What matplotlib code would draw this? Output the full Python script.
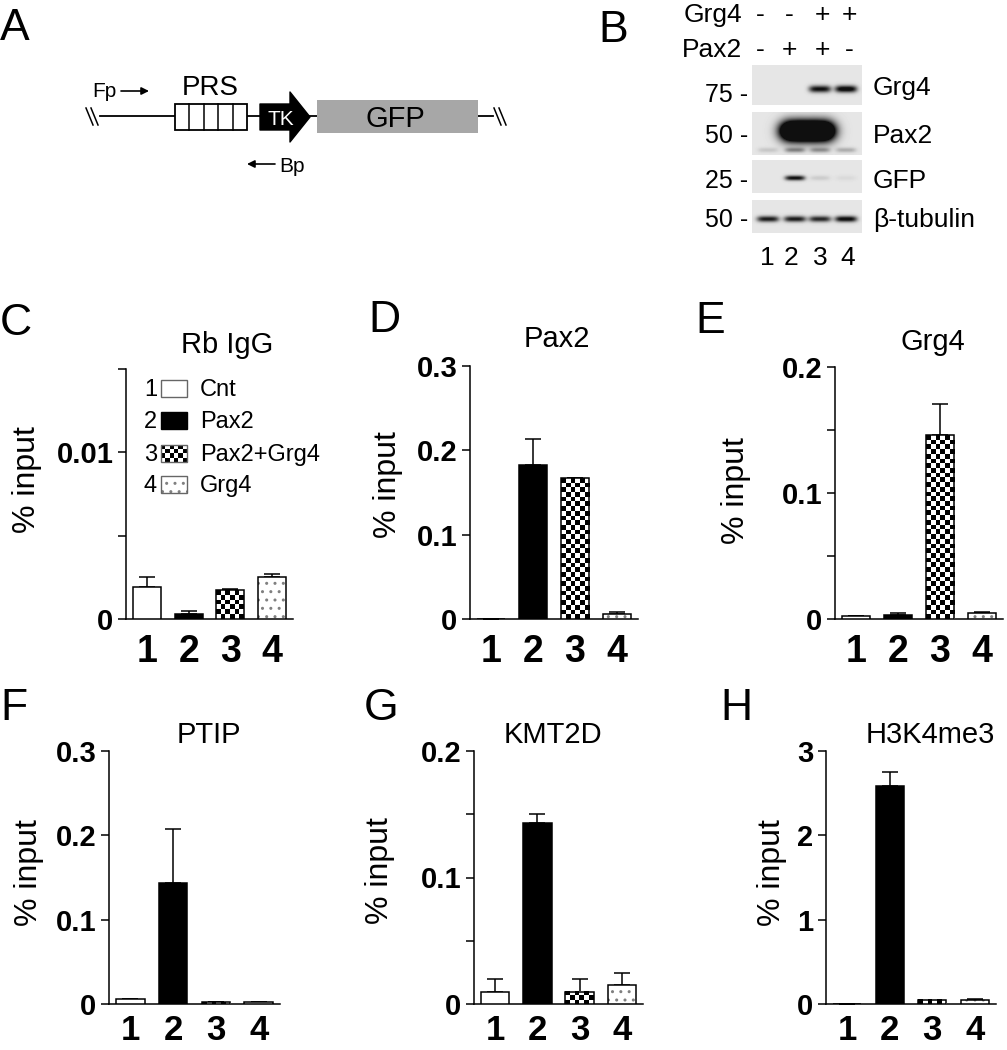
import numpy as np
import matplotlib.pyplot as plt
from matplotlib.patches import Rectangle, Polygon

W, H = 1007, 1050
plt.rcParams['font.family'] = ['Liberation Sans', 'DejaVu Sans']
plt.rcParams['hatch.linewidth'] = 1.0

lanes = [1, 2, 3, 4]
lane_labels = ['1', '2', '3', '4']
groups = ['Cnt', 'Pax2', 'Pax2+Grg4', 'Grg4']

# ChIP-qPCR, % input (mean and upper error)
rbigg_mean = [0.0019, 0.00032, 0.00172, 0.00252]
rbigg_err = [0.0006, 0.00014, 0.00008, 0.0002]
pax2_mean = [0.0, 0.183, 0.1667, 0.006]
pax2_err = [0.0, 0.031, 0.0008, 0.002]
grg4_mean = [0.002, 0.003, 0.146, 0.005]
grg4_err = [0.0003, 0.0015, 0.025, 0.0008]
ptip_mean = [0.006, 0.144, 0.002, 0.002]
ptip_err = [0.0, 0.063, 0.0, 0.0]
kmt2d_mean = [0.0095, 0.143, 0.0095, 0.015]
kmt2d_err = [0.0103, 0.007, 0.0103, 0.0095]
h3k4_mean = [0.0, 2.58, 0.048, 0.05]
h3k4_err = [0.0, 0.17, 0.0, 0.01]

# western blot (panel B): transfection signs and rough band strength per lane
grg4_sign = ['-', '-', '+', '+']
pax2_sign = ['-', '+', '+', '-']
blot_names = ['Grg4', 'Pax2', 'GFP', '\u03b2-tubulin']
blot_mw = ['75', '50', '25', '50']
band_grg4 = [0.0, 0.0, 0.85, 0.95]
band_pax2 = [0.0, 2.2, 2.2, 0.0]
band_pax2_low = [0.12, 0.35, 0.3, 0.22]
band_gfp = [0.0, 0.85, 0.1, 0.05]
band_tub = [0.8, 0.8, 0.75, 0.9]

fig = plt.figure(figsize=(W / 100, H / 100), dpi=100)
cv = fig.add_axes([0, 0, 1, 1])
cv.set_xlim(0, W)
cv.set_ylim(H, 0)
cv.axis('off')


def px_axes(l, t, r, b):
    ax = fig.add_axes([l / W, 1 - b / H, (r - l) / W, (b - t) / H])
    ax.set_facecolor('none')
    return ax


def checker_img(nrows, ncols):
    return np.indices((nrows, ncols)).sum(axis=0) % 2


CELL = 4.7


def bar_panel(box, mean, err, ymax, ticks, labels, xpad=11, xsize=27):
    l, t, r, b = box
    ax = px_axes(l, t, r, b)
    x = np.array(lanes)
    width = 0.67
    # fills: white, black, (checker image), grey dots
    fills = ax.bar(x, mean, width=width, color=['white', 'black', 'none', 'white'],
                   edgecolor=['none', 'none', 'none', '0.5'], linewidth=0, zorder=4)
    fills[3].set_hatch('..')
    ax.bar(x, mean, width=width, color='none', edgecolor='black', linewidth=1.1, zorder=5)
    ax.errorbar(x, mean, yerr=[np.zeros(4), err], fmt='none', ecolor='black',
                elinewidth=1.1, capsize=5.8, capthick=1.1, zorder=2)
    # checkerboard fill for the Pax2+Grg4 bar
    h3 = mean[2]
    if h3 > 0:
        w_px = width * (r - l) / 4.0
        h_px = h3 * (b - t) / ymax
        nc = max(1, int(round(w_px / CELL)))
        nr = max(1, int(round(h_px / CELL)))
        ax.imshow(checker_img(nr, nc), cmap='gray', extent=[3 - width / 2, 3 + width / 2, 0, h3],
                  aspect='auto', interpolation='nearest', zorder=3)
    ax.set_xlim(0.5, 4.5)
    ax.set_ylim(0, ymax)
    ax.set_yticks(ticks)
    ax.set_yticklabels(labels, fontweight='bold')
    ax.tick_params(axis='y', direction='out', length=6, width=1.1, pad=3, labelsize=21)
    ax.set_xticks(x, lane_labels, fontweight='bold')
    ax.tick_params(axis='x', length=0, pad=xpad, labelsize=xsize)
    ax.spines[['top', 'right']].set_visible(False)
    ax.spines[['left', 'bottom']].set_linewidth(1.1)
    return ax


bar_panel((126, 369, 293, 619), rbigg_mean, rbigg_err, 0.015,
          [0, 0.005, 0.01, 0.015], ['0', '', '0.01', ''])
bar_panel((470, 366, 638, 619), pax2_mean, pax2_err, 0.3,
          [0, 0.1, 0.2, 0.3], ['0', '0.1', '0.2', '0.3'])
bar_panel((835, 367, 1003, 619), grg4_mean, grg4_err, 0.2,
          [0, 0.05, 0.1, 0.15, 0.2], ['0', '', '0.1', '', '0.2'])
bar_panel((109, 751, 280, 1004), ptip_mean, ptip_err, 0.3,
          [0, 0.1, 0.2, 0.3], ['0', '0.1', '0.2', '0.3'], xpad=7, xsize=25)
bar_panel((474, 751, 643, 1004), kmt2d_mean, kmt2d_err, 0.2,
          [0, 0.05, 0.1, 0.15, 0.2], ['0', '', '0.1', '', '0.2'], xpad=7, xsize=25)
bar_panel((826, 751, 996, 1004), h3k4_mean, h3k4_err, 3,
          [0, 1, 2, 3], ['0', '1', '2', '3'], xpad=7, xsize=25)

# panel letters
for letter, x, y in [('A', 0, 40), ('B', 598, 42), ('C', 0, 335), ('D', 368, 332),
                     ('E', 695, 333), ('F', 0, 720), ('G', 364, 720), ('H', 720, 720)]:
    cv.text(x, y, letter, fontsize=32, ha='left', va='baseline')

# titles and y labels
for txt, x, y in [('Rb IgG', 227, 353), ('Pax2', 557, 347), ('Grg4', 933, 350),
                  ('PTIP', 209, 743), ('KMT2D', 553, 743), ('H3K4me3', 930, 743)]:
    cv.text(x, y, txt, fontsize=21, ha='center', va='baseline')
for x, y in [(27, 480), (388, 485), (736, 491), (29, 873), (380, 871), (772, 873)]:
    cv.text(x, y, '% input', fontsize=23, rotation=90, ha='center', va='center')

# legend of panel C
leg_y = [388, 420, 453, 484]
for i, (yy, name) in enumerate(zip(leg_y, groups)):
    cv.text(157, yy + 8, str(i + 1), fontsize=17, ha='right', va='baseline')
    cv.text(200, yy + 8, name, fontsize=17, ha='left', va='baseline')
    x0, y0, sw, sh = 161, yy - 8, 26, 17
    if i == 2:
        cv.imshow(checker_img(4, 6), cmap='gray', extent=[x0, x0 + sw, y0 + sh, y0],
                  aspect='auto', interpolation='nearest', zorder=3)
    elif i == 3:
        cv.add_patch(Rectangle((x0, y0), sw, sh, fc='white', ec='0.5', lw=0,
                               hatch='..', zorder=3))
    fc = 'black' if i == 1 else 'none' if i >= 2 else 'white'
    ec = 'black' if i == 1 else '0.4'
    cv.add_patch(Rectangle((x0, y0), sw, sh, fc=fc, ec=ec, lw=1.0, zorder=4))

# panel A: reporter construct
cv.plot([100, 493], [116, 116], color='black', lw=1.3, zorder=2)
for xs in (86, 91):
    cv.plot([xs, xs + 7], [108, 125], color='black', lw=1.1)
for xs in (494, 499):
    cv.plot([xs, xs + 7], [108, 125], color='black', lw=1.1)
cv.add_patch(Rectangle((175, 104), 72, 26, fc='white', ec='black', lw=1.3, zorder=3))
for k in range(1, 5):
    xk = 175 + 14.4 * k
    cv.plot([xk, xk], [104, 130], color='black', lw=1.1, zorder=4)
cv.add_patch(Polygon([(260, 104), (290, 104), (290, 92), (310, 117), (290, 142),
                      (290, 130), (260, 130)], closed=True, fc='black', ec='black',
                     lw=1.0, joinstyle='round', zorder=3))
cv.text(281, 125, 'TK', color='white', fontsize=15, ha='center', va='baseline', zorder=5)
cv.add_patch(Rectangle((317, 100), 161, 33, fc='#a7a7a7', ec='none', zorder=3))
cv.text(395, 127, 'GFP', fontsize=21, ha='center', va='baseline', zorder=5)
cv.text(210, 95, 'PRS', fontsize=20, ha='center', va='baseline')
cv.text(92, 97, 'Fp', fontsize=15, ha='left', va='baseline')
cv.annotate('', xy=(149, 91), xytext=(121, 91),
            arrowprops=dict(arrowstyle='-|>', lw=1.2, color='black', mutation_scale=11,
                            shrinkA=0, shrinkB=0))
cv.text(279, 172, 'Bp', fontsize=15, ha='left', va='baseline')
cv.annotate('', xy=(247, 164), xytext=(275, 164),
            arrowprops=dict(arrowstyle='-|>', lw=1.2, color='black', mutation_scale=11,
                            shrinkA=0, shrinkB=0))

# panel B: western blot
sign_x = [760, 789, 822, 849]
cv.text(742, 22, 'Grg4', fontsize=19, ha='right', va='baseline')
cv.text(742, 57, 'Pax2', fontsize=19, ha='right', va='baseline')
for sx, g, p in zip(sign_x, grg4_sign, pax2_sign):
    cv.text(sx, 22, g, fontsize=19, ha='center', va='baseline')
    cv.text(sx, 57, p, fontsize=19, ha='center', va='baseline')

lane_x = np.array([768, 795, 820, 846])
bx0, bx1 = 752, 862


def strip(y0, y1, bands):
    xs = np.arange(bx0, bx1) + 0.5
    ys = np.arange(y0, y1) + 0.5
    X, Y = np.meshgrid(xs, ys)
    img = np.full(X.shape, 0.9)
    for inten, yc, sy, sx, p in bands:
        for xc, a in zip(lane_x, inten):
            img -= a * np.exp(-np.abs((X - xc) / sx) ** p) * np.exp(-((Y - yc) / sy) ** 2)
    img = np.clip(img, 0.06, 1)
    cv.imshow(img, cmap='gray', vmin=0, vmax=1, extent=[bx0, bx1, y1, y0],
              aspect='auto', interpolation='bilinear', zorder=2)


strip(65, 105, [(band_grg4, 89, 3.5, 11, 4)])
strip(112, 155, [(band_pax2, 131, 10, 15, 2.5), (band_pax2_low, 150, 2.5, 10, 4)])
strip(160, 193, [(band_gfp, 178, 2.5, 10, 4)])
strip(200, 233, [(band_tub, 219, 3.0, 11, 4)])

for mw, yb in zip(blot_mw, [102, 143, 188, 227]):
    cv.text(748, yb, mw + ' -', fontsize=18, ha='right', va='baseline')
for name, yb in zip(blot_names, [95, 143, 188, 227]):
    cv.text(873, yb, name, fontsize=19, ha='left', va='baseline')
for lx, lab in zip([767, 791, 820, 848], lane_labels):
    cv.text(lx, 265, lab, fontsize=19, ha='center', va='baseline')

cv.set_xlim(0, W)
cv.set_ylim(H, 0)
fig.savefig('out.png', dpi=100)
plt.close(fig)
